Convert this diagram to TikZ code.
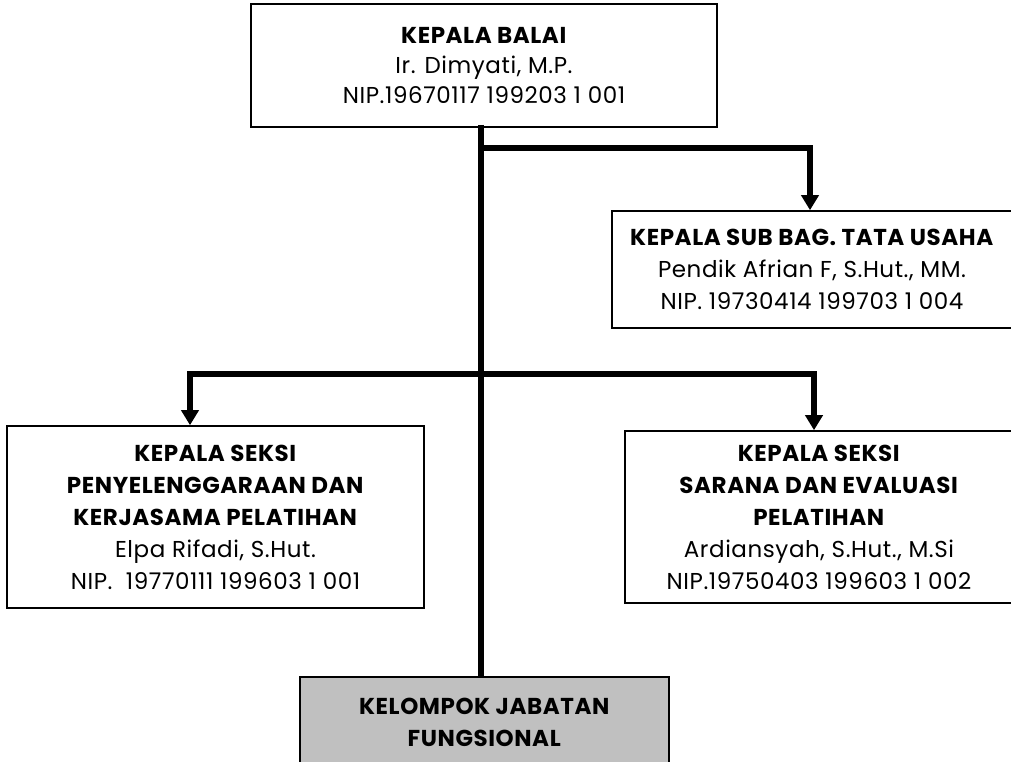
\documentclass[tikz,border=0pt]{standalone}
\usepackage{fontspec}
\setmainfont{Poppins}[LetterSpace=2.5]
\usetikzlibrary{arrows.meta}
\tikzset{
  box/.style={draw=black, line width=1.6pt, fill=white, align=center, inner sep=0pt,
    font=\fontsize{23}{32}\selectfont},
  conn/.style={line width=6pt, black},
  arr/.style={conn, -{Triangle[width=17pt,length=15pt]}},
}
\begin{document}
\begin{tikzpicture}[x=1pt,y=-1pt]
\useasboundingbox (0,0) rectangle (1011,761);
\clip (0,0) rectangle (1011,761);
% boxes (pixel coordinates, y downward)
\node[box, font=\fontsize{23}{30}\selectfont, minimum width=466, minimum height=123] (top) at (484,65.5)
  {\textbf{KEPALA BALAI}\\Ir. Dimyati, M.P.\\NIP.19670117 199203 1 001};
\node[box, minimum width=400, minimum height=117] (sub) at (812,269.5)
  {\textbf{KEPALA SUB BAG. TATA USAHA}\\Pendik Afrian F, S.Hut., MM.\\NIP. 19730414 199703 1 004};
\node[box, minimum width=417, minimum height=182] (left) at (215.5,517)
  {\textbf{KEPALA SEKSI}\\\textbf{PENYELENGGARAAN DAN}\\\textbf{KERJASAMA PELATIHAN}\\Elpa Rifadi, S.Hut.\\NIP.\ \ 19770111 199603 1 001};
\node[box, minimum width=388, minimum height=172] (right) at (819,517)
  {\textbf{KEPALA SEKSI}\\\textbf{SARANA DAN EVALUASI}\\\textbf{PELATIHAN}\\Ardiansyah, S.Hut., M.Si\\NIP.19750403 199603 1 002};
\node[box, fill={rgb,255:red,192;green,192;blue,192}, minimum width=369, minimum height=90] (bot) at (484.5,722)
  {\textbf{KELOMPOK JABATAN}\\\textbf{FUNGSIONAL}};
% connectors
\coordinate (trunk) at (481,0);
\coordinate (br1) at (481,148);
\coordinate (br2) at (481,374);
\coordinate (lefttip) at (190,0);
\coordinate (subtip) at (810,0);
\coordinate (righttip) at (814,0);
\draw[conn] ([yshift=3pt]top.south -| trunk) -- (bot.north -| trunk);
\draw[arr] (br1) -| (subtip |- sub.north);
\draw[arr] (br2) -| (righttip |- right.north);
\draw[arr] (br2) -| (lefttip |- left.north);
\end{tikzpicture}
\end{document}
